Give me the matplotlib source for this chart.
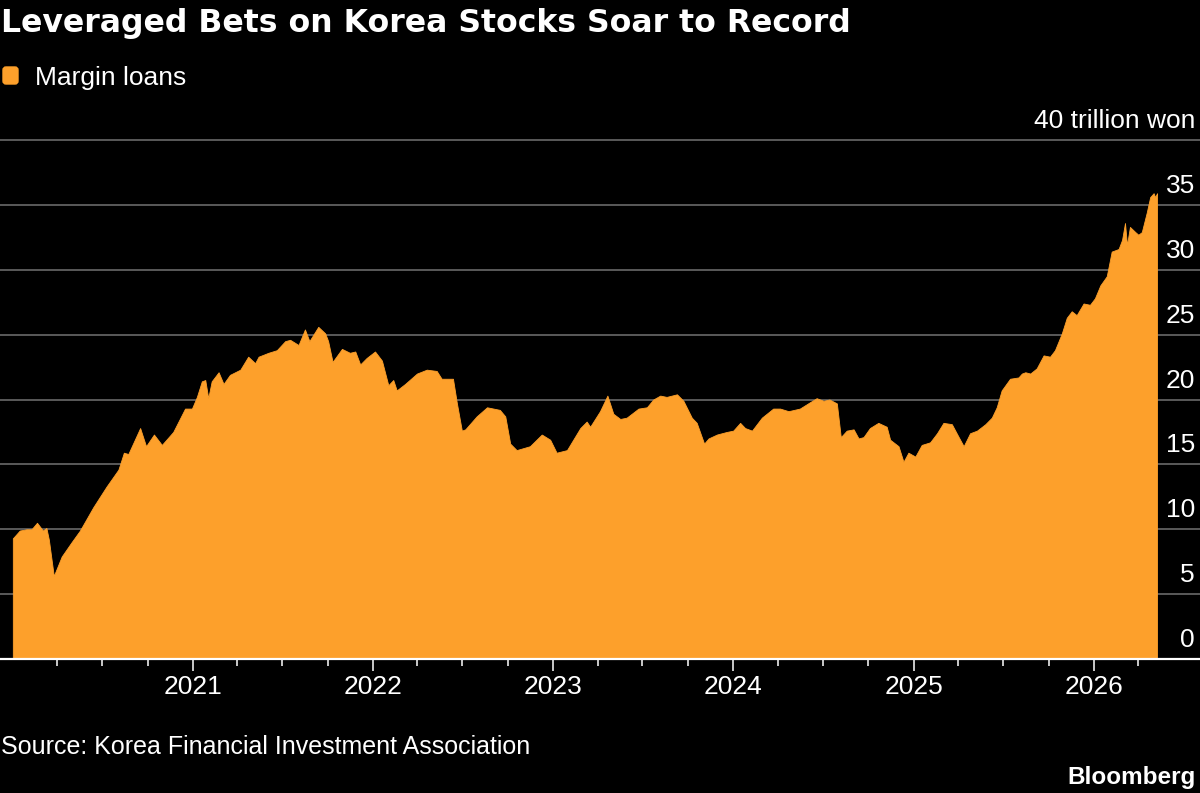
import pandas as pd
import matplotlib
matplotlib.use("Agg")
import matplotlib.pyplot as plt
from matplotlib.patches import FancyBboxPatch
from matplotlib.transforms import IdentityTransform, offset_copy

# margin loans, trillion won
dates = [
    "2020-01-02", "2020-01-16", "2020-01-30", "2020-02-09", "2020-02-20", "2020-03-03",
    "2020-03-10", "2020-03-15", "2020-03-25", "2020-04-10", "2020-04-30", "2020-05-17",
    "2020-06-13", "2020-07-10", "2020-08-03", "2020-08-14", "2020-08-23", "2020-09-16",
    "2020-09-28", "2020-10-14", "2020-10-30", "2020-11-22", "2020-12-16", "2020-12-30",
    "2021-01-09", "2021-01-19", "2021-01-26", "2021-02-01", "2021-02-08", "2021-02-22",
    "2021-03-04", "2021-03-17", "2021-04-07", "2021-04-23", "2021-05-07", "2021-05-14",
    "2021-06-03", "2021-06-20", "2021-07-07", "2021-07-17", "2021-08-03", "2021-08-16",
    "2021-08-25", "2021-09-12", "2021-09-26", "2021-10-02", "2021-10-11", "2021-10-30",
    "2021-11-15", "2021-11-26", "2021-12-06", "2021-12-19", "2022-01-05", "2022-01-19",
    "2022-02-01", "2022-02-11", "2022-02-18", "2022-03-07", "2022-03-31", "2022-04-20",
    "2022-05-10", "2022-05-20", "2022-06-12", "2022-06-20", "2022-06-30", "2022-07-07",
    "2022-07-30", "2022-08-20", "2022-09-15", "2022-09-26", "2022-10-06", "2022-10-19",
    "2022-11-15", "2022-12-09", "2022-12-26", "2023-01-08", "2023-01-29", "2023-02-25",
    "2023-03-10", "2023-03-17", "2023-04-06", "2023-04-21", "2023-05-03", "2023-05-17",
    "2023-05-30", "2023-06-23", "2023-07-10", "2023-07-23", "2023-08-06", "2023-08-19",
    "2023-09-09", "2023-09-22", "2023-10-09", "2023-10-19", "2023-11-03", "2023-11-12",
    "2023-11-29", "2023-12-19", "2024-01-01", "2024-01-15", "2024-01-25", "2024-02-08",
    "2024-02-28", "2024-03-22", "2024-04-05", "2024-04-22", "2024-05-15", "2024-06-05",
    "2024-06-18", "2024-07-02", "2024-07-14", "2024-07-29", "2024-08-06", "2024-08-18",
    "2024-09-01", "2024-09-11", "2024-09-21", "2024-10-04", "2024-10-21", "2024-11-07",
    "2024-11-14", "2024-12-01", "2024-12-11", "2024-12-21", "2025-01-04", "2025-01-17",
    "2025-02-03", "2025-02-17", "2025-03-02", "2025-03-19", "2025-04-02", "2025-04-12",
    "2025-04-25", "2025-05-09", "2025-05-26", "2025-06-08", "2025-06-18", "2025-06-28",
    "2025-07-15", "2025-08-01", "2025-08-08", "2025-08-15", "2025-08-25", "2025-09-07",
    "2025-09-21", "2025-10-04", "2025-10-14", "2025-10-28", "2025-11-07", "2025-11-17",
    "2025-11-27", "2025-12-11", "2025-12-24", "2026-01-03", "2026-01-14", "2026-01-27",
    "2026-02-06", "2026-02-20", "2026-02-27", "2026-03-05", "2026-03-09", "2026-03-15",
    "2026-03-26", "2026-04-01", "2026-04-08", "2026-04-18", "2026-04-25", "2026-05-02",
    "2026-05-05", "2026-05-09",
]
margin_loans = [
    9.3, 9.9, 10.0, 10.0, 10.5, 9.9,
    10.1, 9.2, 6.4, 7.9, 9.0, 9.9,
    11.7, 13.3, 14.6, 15.9, 15.8, 17.8,
    16.4, 17.3, 16.5, 17.5, 19.3, 19.3,
    20.2, 21.4, 21.5, 20.1, 21.4, 22.1,
    21.2, 21.9, 22.3, 23.3, 22.8, 23.3,
    23.6, 23.8, 24.5, 24.6, 24.2, 25.4,
    24.5, 25.6, 25.1, 24.5, 22.9, 23.9,
    23.6, 23.7, 22.7, 23.2, 23.7, 23.0,
    21.1, 21.5, 20.7, 21.2, 22.0, 22.3,
    22.2, 21.6, 21.6, 19.7, 17.6, 17.7,
    18.7, 19.4, 19.2, 18.7, 16.6, 16.1,
    16.4, 17.3, 16.9, 15.9, 16.1, 17.8,
    18.3, 17.9, 19.1, 20.3, 18.9, 18.5,
    18.6, 19.3, 19.4, 20.0, 20.3, 20.2,
    20.4, 19.9, 18.6, 18.2, 16.6, 17.0,
    17.3, 17.5, 17.6, 18.2, 17.8, 17.6,
    18.6, 19.3, 19.3, 19.1, 19.3, 19.8,
    20.1, 19.9, 20.0, 19.7, 17.1, 17.6,
    17.7, 17.0, 17.1, 17.8, 18.2, 17.9,
    16.9, 16.4, 15.2, 15.9, 15.6, 16.5,
    16.7, 17.4, 18.2, 18.1, 17.1, 16.4,
    17.4, 17.6, 18.1, 18.6, 19.4, 20.7,
    21.6, 21.7, 22.0, 22.1, 22.0, 22.4,
    23.4, 23.3, 23.8, 25.1, 26.3, 26.8,
    26.5, 27.4, 27.3, 27.8, 28.8, 29.5,
    31.4, 31.6, 32.3, 33.6, 31.9, 33.3,
    32.9, 32.7, 32.9, 34.4, 35.6, 35.9,
    35.6, 35.9,
]

y_ticks = [0, 5, 10, 15, 20, 25, 30, 35, 40]
y_labels = ["0", "5", "10", "15", "20", "25", "30", "35", "40 trillion won"]
year_ticks = ["2021-01-01", "2022-01-01", "2023-01-01", "2024-01-01", "2025-01-01", "2026-01-01"]
year_labels = ["2021", "2022", "2023", "2024", "2025", "2026"]
quarter_ticks = [f"{y}-{m:02d}-01" for y in range(2020, 2027) for m in (4, 7, 10)]
quarter_ticks = [q for q in quarter_ticks if q <= "2026-04-01"]

ORANGE = "#FDA02B"
GRID = "#5a5a5a"

plt.rcParams["font.family"] = ["Liberation Sans", "DejaVu Sans"]

W, H = 1200, 793
fig = plt.figure(figsize=(W / 100, H / 100), dpi=100, facecolor="black")

# axes: y=0 at px 659, 13 px per trillion
ymax = 40.4
ax_h = ymax * 12.975
ax = fig.add_axes([0, (H - 659) / H, 1, ax_h / H])
ax.set_facecolor("black")

x = pd.to_datetime(dates)
ax.fill_between(x, margin_loans, 0, color=ORANGE, lw=0.6, edgecolor=ORANGE, zorder=2)

ax.set_xlim(pd.Timestamp("2019-12-07"), pd.Timestamp("2026-08-04"))
ax.set_ylim(0, ymax)

for s in ax.spines.values():
    s.set_visible(False)

ax.set_yticks(y_ticks)
ax.tick_params(axis="y", left=False, right=False, labelleft=False, labelright=False)
ax.grid(axis="y", color=GRID, lw=1.4, zorder=1)
ax.set_axisbelow(True)
ax.axhline(0, color="white", lw=1.6, zorder=3, clip_on=False)

lab_tr = offset_copy(ax.get_yaxis_transform(), fig=fig, x=0, y=12, units="dots")
for v, lab in zip(y_ticks, y_labels):
    ax.text(1195 / W, v, lab, transform=lab_tr, ha="right", va="baseline",
            color="white", fontsize=19)

ax.set_xticks(pd.to_datetime(year_ticks))
ax.set_xticklabels(year_labels)
ax.set_xticks(pd.to_datetime(quarter_ticks), minor=True)
ax.tick_params(axis="x", which="major", length=8.5, width=1.1, color="white",
               labelcolor="white", labelsize=19, pad=3)
ax.tick_params(axis="x", which="minor", length=5, width=1.1, color="white")

fig.text(1 / W, 1 - 32 / H, "Leveraged Bets on Korea Stocks Soar to Record",
         family="DejaVu Sans", weight="bold", fontsize=22.7, color="white", va="baseline")
fig.patches.append(FancyBboxPatch((3, H - 84), 15, 17, boxstyle="round,pad=0,rounding_size=3",
                                  transform=IdentityTransform(), color=ORANGE, figure=fig))
fig.text(35 / W, 1 - 85 / H, "Margin loans", fontsize=19, color="white", va="baseline")
fig.text(1 / W, 1 - 754 / H, "Source: Korea Financial Investment Association",
         fontsize=18, color="white", va="baseline")
fig.text(1196 / W, 1 - 784 / H, "Bloomberg", family="Liberation Sans", weight="bold",
         fontsize=17.5, color="white", ha="right", va="baseline")

fig.savefig("out.png", dpi=100, facecolor="black")
